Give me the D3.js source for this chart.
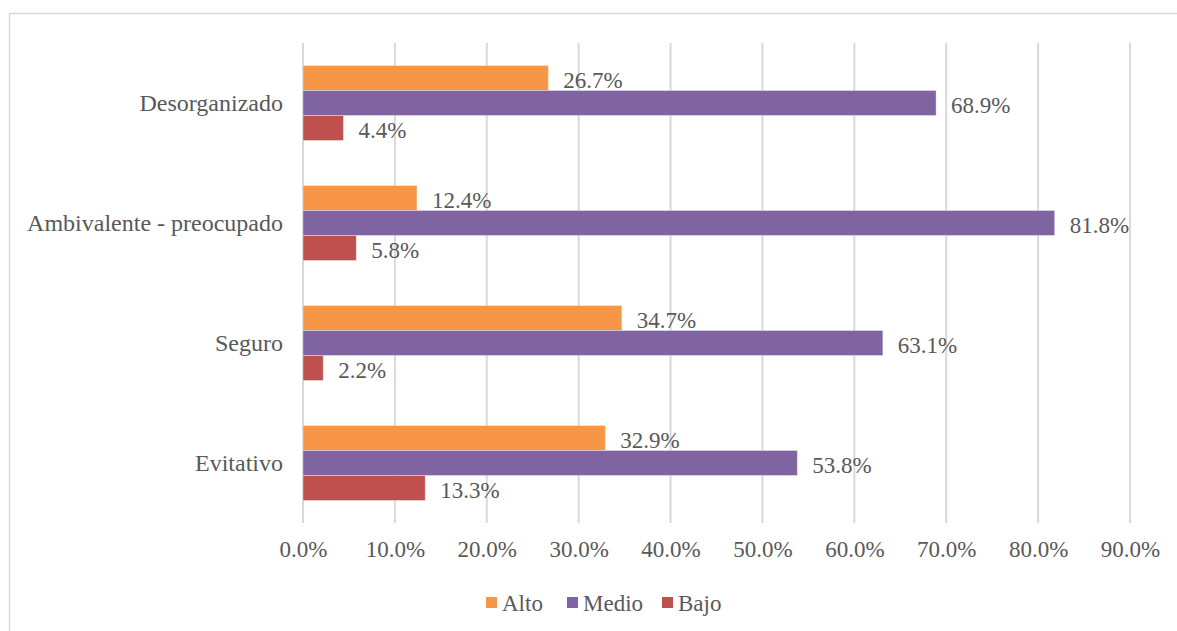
<!DOCTYPE html>
<html><head><meta charset="utf-8">
<script src="https://cdn.jsdelivr.net/npm/d3@7"></script>
<style>body{margin:0;background:#fff}svg{display:block}</style>
</head><body>
<svg id="c" width="1177" height="631"></svg>
<script>
const categories = ["Desorganizado","Ambivalente - preocupado","Seguro","Evitativo"];
const seriesNames = ["Alto","Medio","Bajo"];
const alto  = [26.7, 12.4, 34.7, 32.9];
const medio = [68.9, 81.8, 63.1, 53.8];
const bajo  = [4.4, 5.8, 2.2, 13.3];
const tickValues = [0,10,20,30,40,50,60,70,80,90];
const colors = ["#F79646","#8064A2","#C0504D"];
const FONT = "Liberation Serif";

const svg = d3.select("#c");
svg.append("rect").attr("x",9.5).attr("y",13.5).attr("width",1200).attr("height",700)
  .attr("fill","none").attr("stroke","#d9d9d9").attr("stroke-width",1.5);

const x = d3.scaleLinear().domain([0,90]).range([303,1130]);
const y = d3.scaleBand().domain(categories).range([43,523]).paddingInner(0.375).paddingOuter(0.1875);
const ys = d3.scaleBand().domain(seriesNames).range([0,y.bandwidth()]);

svg.append("g").selectAll("line").data(tickValues).join("line")
  .attr("x1",d=>x(d)).attr("x2",d=>x(d)).attr("y1",43).attr("y2",523)
  .attr("stroke","#d9d9d9").attr("stroke-width",2);

function styleText(sel, fs){ sel.attr("font-family",FONT).style("font-family",FONT).style("font-size",(fs||23)+"px").style("fill","#595959"); }

const xAxis = d3.axisBottom(x).tickValues(tickValues).tickSize(0).tickPadding(0).tickFormat(d=>d.toFixed(1)+"%");
const gx = svg.append("g").attr("transform","translate(0,541)").call(xAxis);
gx.select(".domain").remove();
gx.attr("font-family",FONT);
gx.selectAll("text").call(styleText, 23);

const yAxis = d3.axisLeft(y).tickSize(0).tickPadding(0);
const gy = svg.append("g").attr("transform","translate(283,0)").call(yAxis);
gy.select(".domain").remove();
gy.attr("font-family",FONT);
gy.selectAll("text").call(styleText, 24);

const series = [alto, medio, bajo];
series.forEach((vals,si)=>{
  const g = svg.append("g");
  g.selectAll("rect").data(categories).join("rect")
    .attr("x",x(0)).attr("y",(c)=>y(c)+ys(seriesNames[si]))
    .attr("width",(c,i)=>x(vals[i])-x(0)).attr("height",ys.bandwidth())
    .attr("fill",colors[si]).attr("stroke","#fff").attr("stroke-opacity",0.35).attr("stroke-width",1);
  g.selectAll("text").data(categories).join("text")
    .attr("x",(c,i)=>x(vals[i])+15).attr("y",(c)=>y(c)+ys(seriesNames[si])+ys.bandwidth()/2+2)
    .attr("dy","0.35em")
    .text((c,i)=>vals[i].toFixed(1)+"%").call(styleText, 23);
});

const legend = svg.append("g");
const lx = [486,567,662];
seriesNames.forEach((n,i)=>{
  legend.append("rect").attr("x",lx[i]).attr("y",597).attr("width",11).attr("height",11).attr("fill",colors[i]);
  legend.append("text").attr("x",lx[i]+16).attr("y",603).attr("dy","0.35em").text(n).call(styleText, 23);
});
</script>
</body></html>
